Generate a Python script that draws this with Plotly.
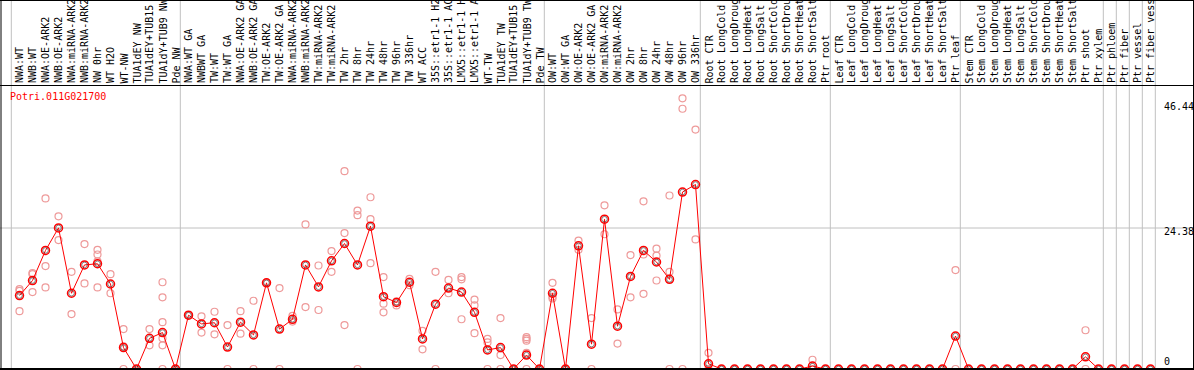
import plotly.graph_objects as go

# ---------------- data ----------------
gene_id = "Potri.011G021700"

labels = [
    "NWA:WT", "NWB:WT", "NWA:OE-ARK2", "NWB:OE-ARK2", "NWA:miRNA-ARK2", "NWB:miRNA-ARK2",
    "NW 0hr", "WT H2O", "WT-NW", "TUA1dEY NW", "TUA1dEY+TUB15", "TUA1dY+TUB9 NW", "Pde NW",
    "NWA:WT GA", "NWBWT GA", "TW:WT", "TW:WT GA", "NWA:OE-ARK2 GA", "NWB:OE-ARK2 GA",
    "TW:OE-ARK2", "TW:OE-ARK2 GA", "NWA:miRNA-ARK2", "NWB:miRNA-ARK2", "TW:miRNA-ARK2",
    "TW:miRNA-ARK2", "TW 2hr", "TW 8hr", "TW 24hr", "TW 48hr", "TW 96hr", "TW 336hr",
    "WT ACC", "35S::etr1-1 H2", "35S::etr1-1 AC", "LMX5::etr1-1 H", "LMX5::etr1-1 A",
    "WT-TW", "TUA1dEY TW", "TUA1dEY+TUB15", "TUA1dY+TUB9 TW", "Pde TW",
    "OW:WT", "OW:WT GA", "OW:OE-ARK2", "OW:OE-ARK2 GA", "OW:miRNA-ARK2", "OW:miRNA-ARK2",
    "OW 2hr", "OW 8hr", "OW 24hr", "OW 48hr", "OW 96hr", "OW 336hr",
    "Root CTR", "Root LongCold", "Root LongDroug", "Root LongHeat", "Root LongSalt",
    "Root ShortCold", "Root ShortDrou", "Root ShortHeat", "Root ShortSalt", "Ptr root",
    "Leaf CTR", "Leaf LongCold", "Leaf LongDroug", "Leaf LongHeat", "Leaf LongSalt",
    "Leaf ShortCold", "Leaf ShortDrou", "Leaf ShortHeat", "Leaf ShortSalt", "Ptr leaf",
    "Stem CTR", "Stem LongCold", "Stem LongDroug", "Stem LongHeat", "Stem LongSalt",
    "Stem ShortCold", "Stem ShortDrou", "Stem ShortHeat", "Stem ShortSalt", "Ptr shoot",
    "Ptr xylem", "Ptr phloem", "Ptr fiber", "Ptr vessel", "Ptr fiber vess",
]

group_sizes = [13, 28, 12, 10, 10, 11, 1, 1, 1, 1]

means = [
    12.7, 15.3, 20.5, 24.4, 13.1, 18.0, 18.2, 14.7, 3.7, 0.0, 5.3, 6.3, 0.0,
    9.3, 7.8, 8.0, 3.8, 8.1, 5.9, 14.9, 6.9, 8.6, 18.0, 14.2, 18.7, 21.7, 18.0,
    24.7, 12.5, 11.5, 15.0, 5.2, 11.2, 14.0, 13.3, 9.8, 3.3, 3.7, 0.0, 2.4, 0.0,
    13.1, 0.0, 21.3, 4.3, 25.9, 7.4, 16.0, 20.5, 18.5, 15.5, 30.6, 31.9,
    0.9, 0.0, 0.0, 0.0, 0.0, 0.0, 0.0, 0.0, 0.5, 0.0,
    0.0, 0.0, 0.0, 0.0, 0.0, 0.0, 0.0, 0.0, 0.0, 5.7,
    0.0, 0.0, 0.0, 0.0, 0.0, 0.0, 0.0, 0.0, 0.0, 2.1,
    0.0, 0.0, 0.0, 0.0, 0.0,
]

replicates = [
    [13.8, 13.5, 10.0], [16.6, 16.4, 13.3], [29.5, 17.8, 14.1], [26.4, 22.3],
    [16.8, 9.5], [21.6, 14.8], [20.6, 19.8, 18.6, 14.1], [16.4, 13.1],
    [6.9, 3.9, 0.0], [0.0, 0.0], [6.9, 4.1], [15.0, 12.4, 8.1, 5.3, 4.1, 0.0], [0.0, 0.0],
    [9.3, 9.3], [9.1, 6.3], [9.9, 6.0], [7.6, 0.0], [10.0, 6.1], [11.8, 0.0],
    [14.9, 14.9], [14.0, 0.0], [9.2, 8.2], [25.0, 10.7], [17.9, 10.2], [20.4, 16.8],
    [34.2, 23.5, 7.6], [27.4, 26.6, 0.0], [29.7, 25.9, 18.3], [15.9, 11.3, 9.8],
    [11.7, 11.0], [15.6, 14.5], [6.6, 3.4], [16.8, 0.0], [15.4, 13.1],
    [15.9, 15.5, 8.6], [12.0, 11.0, 6.2], [5.2, 4.6, 0.0], [8.8, 2.4, 0.0], [0.0, 0.0],
    [5.5, 5.2, 4.9, 2.8, 0.0], [0.0, 0.0],
    [14.9, 12.5, 12.2], [0.0, 0.0], [22.2, 20.6], [8.8, 0.0], [28.3, 23.3], [10.3, 4.4],
    [19.7, 12.4], [29.0, 19.8, 13.0], [20.8, 19.6, 15.3], [30.0, 16.8, 0.0],
    [46.8, 45.0, 0.0], [41.4, 22.4],
    [2.8, 0.0], [0.0, 0.0], [0.0, 0.0], [0.0, 0.0], [0.0, 0.0], [0.0, 0.0], [0.0, 0.0],
    [0.0, 0.0], [1.6, 0.0], [0.0, 0.0],
    [0.0, 0.0], [0.0, 0.0], [0.0, 0.0], [0.0, 0.0], [0.0, 0.0], [0.0, 0.0], [0.0, 0.0],
    [0.0, 0.0], [0.0, 0.0], [17.1, 0.0],
    [0.0, 0.0], [0.0, 0.0], [0.0, 0.0], [0.0, 0.0], [0.0, 0.0], [0.0, 0.0], [0.0, 0.0],
    [0.0, 0.0], [0.0, 0.0], [6.7, 0.0],
    [0.0, 0.0], [0.0, 0.0], [0.0, 0.0], [0.0, 0.0], [0.0, 0.0],
]

ytick_values = [46.44, 24.38, 0]
ytick_labels = ["46.44", "24.38", "0"]

# ---------------- figure ----------------
W, H = 1194, 370
MONO = "DejaVu Sans Mono"

x_idx = list(range(len(labels)))
rep_x, rep_y = [], []
for i, reps in enumerate(replicates):
    for v in reps:
        rep_x.append(i)
        rep_y.append(v)

fig = go.Figure()
fig.add_trace(go.Scatter(
    x=rep_x, y=rep_y, mode="markers",
    marker=dict(symbol="circle-open", size=7, color="#ee9a9a", line=dict(width=1.2)),
    hoverinfo="skip", showlegend=False, cliponaxis=True))
fig.add_trace(go.Scatter(
    x=x_idx, y=means, mode="lines+markers",
    line=dict(color="#ff0000", width=1),
    marker=dict(symbol="circle-open", size=8, color="#ff0000", line=dict(width=1.5)),
    showlegend=False, cliponaxis=True))
fig.add_trace(go.Scatter(
    x=x_idx, y=means, mode="markers",
    marker=dict(symbol="circle-open", size=5.5, color="#333333", line=dict(width=0.6)),
    hoverinfo="skip", showlegend=False, cliponaxis=True))

# pixel helpers
def py(p):
    return (H - p) / H

def px(p):
    return p / W

shapes = []
GRID = "#c0c0c0"
b = 0
bounds = [0]
for s in group_sizes:
    b += s
    bounds.append(b)
for bb in bounds:
    shapes.append(dict(type="line", xref="x", yref="paper", x0=bb - 0.63, x1=bb - 0.63,
                       y0=0, y1=1, line=dict(color=GRID, width=1), layer="below"))
shapes.append(dict(type="line", xref="paper", yref="y", x0=0, x1=1, y0=24.38, y1=24.38,
                   line=dict(color=GRID, width=1), layer="below"))
# frame
shapes.append(dict(type="line", xref="paper", yref="paper", x0=0, x1=1, y0=py(85.5), y1=py(85.5),
                   line=dict(color="black", width=1)))
shapes.append(dict(type="line", xref="paper", yref="paper", x0=0, x1=1, y0=py(0.5), y1=py(0.5),
                   line=dict(color="black", width=1)))
shapes.append(dict(type="line", xref="paper", yref="paper", x0=px(1), x1=px(1), y0=0, y1=1,
                   line=dict(color="black", width=1)))
shapes.append(dict(type="line", xref="paper", yref="paper", x0=px(1193.5), x1=px(1193.5), y0=0, y1=1,
                   line=dict(color="black", width=1)))
shapes.append(dict(type="line", xref="paper", yref="y", x0=0, x1=1, y0=0, y1=0,
                   line=dict(color="black", width=2)))

annotations = []
for i, lab in enumerate(labels):
    annotations.append(dict(x=i, xref="x", y=py(84.5), yref="paper", text=lab,
                            textangle=-90, xanchor="center", yanchor="bottom",
                            showarrow=False, borderpad=0,
                            font=dict(family=MONO, size=10, color="black")))
annotations.append(dict(x=px(9), xref="paper", y=py(96.5), yref="paper", text=gene_id,
                        xanchor="left", yanchor="middle", showarrow=False, borderpad=0,
                        font=dict(family=MONO, size=10, color="#ff0000")))
ytick_pix = [106.5, 231, 361.5]
for lab, yp in zip(ytick_labels, ytick_pix):
    annotations.append(dict(x=px(1162.5), xref="paper", y=py(yp), yref="paper", text=lab,
                            xanchor="left", yanchor="middle", showarrow=False, borderpad=0,
                            font=dict(family=MONO, size=10, color="black")))

fig.update_layout(
    width=W, height=H,
    margin=dict(l=0, r=0, t=0, b=0, pad=0),
    paper_bgcolor="white", plot_bgcolor="white",
    xaxis=dict(range=[-1.5, (W - 19.5) / 13], showgrid=False, zeroline=False,
               showticklabels=False, ticks="", showline=False, fixedrange=True),
    yaxis=dict(range=[-1 / 5.783, 369 / 5.783], showgrid=False, zeroline=False,
               showticklabels=False, ticks="", showline=False, fixedrange=True),
    shapes=shapes, annotations=annotations, showlegend=False,
)

fig.write_html(
    "out.html",
    config={"displayModeBar": False},
    post_script="document.body.style.margin='0';document.body.style.overflow='hidden';",
)
